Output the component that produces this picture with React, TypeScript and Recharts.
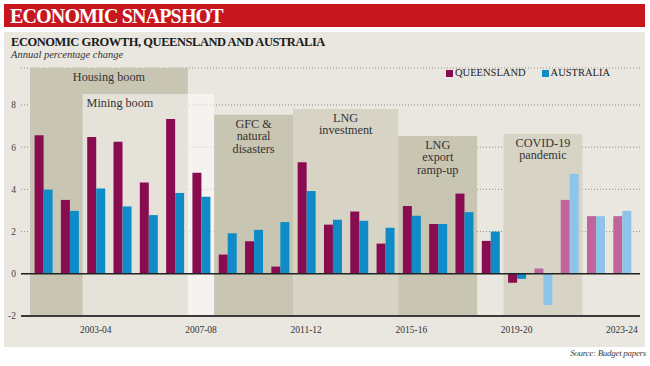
import { Bar, BarChart, CartesianGrid, Cell, ReferenceArea, ReferenceLine, XAxis, YAxis } from 'recharts';

const YEARS = [
  '2001-02', '2002-03', '2003-04', '2004-05', '2005-06', '2006-07', '2007-08', '2008-09',
  '2009-10', '2010-11', '2011-12', '2012-13', '2013-14', '2014-15', '2015-16', '2016-17',
  '2017-18', '2018-19', '2019-20', '2020-21', '2021-22', '2022-23', '2023-24',
];
const QLD = [6.56, 3.5, 6.48, 6.26, 4.32, 7.33, 4.79, 0.91, 1.54, 0.34, 5.28, 2.33, 2.95, 1.43, 3.21, 2.36, 3.8, 1.56, -0.43, 0.25, 3.5, 2.73, 2.73];
const AUS = [3.99, 2.98, 4.04, 3.19, 2.78, 3.83, 3.65, 1.92, 2.08, 2.45, 3.92, 2.56, 2.51, 2.18, 2.75, 2.36, 2.92, 2.0, -0.24, -1.48, 4.73, 2.73, 2.98];
// estimates / forecasts drawn in lighter shades from this year on
const FIRST_ESTIMATE = '2020-21';

const X_TICKS = ['2003-04', '2007-08', '2011-12', '2015-16', '2019-20', '2023-24'];
const Y_TICKS = [-2, 0, 2, 4, 6, 8];

const PERIOD_NAMES = ['Housing boom', 'Mining boom', 'GFC &\nnatural\ndisasters', 'LNG\ninvestment', 'LNG\nexport\nramp-up', 'COVID-19\npandemic'];
const PERIOD_FROM = ['2001-02', '2003-04', '2008-09', '2011-12', '2015-16', '2019-20'];
const PERIOD_TO = ['2006-07', '2007-08', '2010-11', '2014-15', '2017-18', '2021-22'];
const PERIOD_TOP = [9.75, 8.52, 7.53, 7.81, 6.53, 6.62];

const SERIF = '"Liberation Serif", "DejaVu Serif", serif';
const Q_DARK = '#8a0c50';
const Q_LIGHT = '#c0649c';
const A_DARK = '#0f8bc7';
const A_LIGHT = '#8ec4e8';

const PERIOD_FILL = ['#c9c5b3', '#ffffff', '#c9c5b3', '#d7d4c6', '#c9c5b3', '#d7d4c6'];
const PERIOD_OPACITY = [1, 0.5, 1, 1, 1, 1];

const data = YEARS.map((year, i) => ({ year, qld: QLD[i], aus: AUS[i] }));
const estimateStart = YEARS.indexOf(FIRST_ESTIMATE);

function periodLabel(text: string, align: 'middle' | 'start') {
  return (props: any) => {
    const { x, y, width } = props.viewBox;
    const tx = align === 'middle' ? x + width / 2 : x + 4;
    return (
      <text x={tx} y={y + 13} textAnchor={align} fontFamily={SERIF} fontSize={12.2} fill="#333">
        {text.split('\n').map((line, i) => (
          <tspan key={i} x={tx} dy={i === 0 ? 0 : 12.4}>{line}</tspan>
        ))}
      </text>
    );
  };
}

export default function App() {
  return (
    <div style={{ position: 'absolute', left: 0, top: 0, width: 650, height: 366, background: '#fff', fontFamily: SERIF }}>
      <div style={{ position: 'absolute', left: 4, top: 4, width: 641, height: 23, background: '#c8161e' }} />
      <div style={{ position: 'absolute', left: 10, top: 4, height: 23, lineHeight: '24px', color: '#fff', fontWeight: 700, fontSize: 20, letterSpacing: -0.85 }}>
        ECONOMIC SNAPSHOT
      </div>
      <div style={{ position: 'absolute', left: 4, top: 32, width: 641, height: 315, background: '#e9e7e0' }} />
      <div style={{ position: 'absolute', left: 11, top: 35, lineHeight: '14px', fontWeight: 700, fontSize: 12.5, letterSpacing: -0.45, color: '#1a1a1a', whiteSpace: 'nowrap' }}>
        ECONOMIC GROWTH, QUEENSLAND AND AUSTRALIA
      </div>
      <div style={{ position: 'absolute', left: 11, top: 49, lineHeight: '12px', fontStyle: 'italic', fontSize: 10.5, color: '#333', whiteSpace: 'nowrap' }}>
        Annual percentage change
      </div>
      <div style={{ position: 'absolute', left: 446, top: 67, lineHeight: '12px', fontSize: 10.5, color: '#222', display: 'flex', alignItems: 'center', whiteSpace: 'nowrap' }}>
        <span style={{ width: 7, height: 7, background: Q_DARK, marginRight: 2 }} />
        <span>QUEENSLAND</span>
        <span style={{ width: 7, height: 7, background: A_DARK, marginLeft: 16, marginRight: 2 }} />
        <span>AUSTRALIA</span>
      </div>
      <div style={{ position: 'absolute', right: 4, top: 348, lineHeight: '11px', fontStyle: 'italic', fontSize: 9, letterSpacing: -0.3, color: '#444', whiteSpace: 'nowrap' }}>
        Source: Budget papers
      </div>
      <div style={{ position: 'absolute', left: 0, top: 0 }}>
        <BarChart width={650} height={366} data={data} margin={{ top: 68, right: 10, bottom: 20, left: 0 }} barCategoryGap="17.5%" barGap={0}>
          {PERIOD_NAMES.map((name, i) => (
            <ReferenceArea
              key={name}
              x1={PERIOD_FROM[i]}
              x2={PERIOD_TO[i]}
              y1={-2}
              y2={PERIOD_TOP[i]}
              fill={PERIOD_FILL[i]}
              fillOpacity={PERIOD_OPACITY[i]}
              stroke="none"
              ifOverflow="visible"
              label={periodLabel(name, i === 1 ? 'start' : 'middle')}
            />
          ))}
          <CartesianGrid vertical={false} stroke="#8f8d86" strokeDasharray="1 2" />
          <XAxis
            dataKey="year"
            ticks={X_TICKS}
            interval={0}
            height={30}
            padding={{ left: 9, right: 5 }}
            tickLine={false}
            tickSize={4}
            tickMargin={6}
            axisLine={{ stroke: '#3a3a3a', strokeWidth: 2 }}
            tick={{ fontFamily: SERIF, fontSize: 9.5, fill: '#333' }}
          />
          <YAxis
            width={21}
            domain={[-2, 9.75]}
            ticks={Y_TICKS}
            interval={0}
            axisLine={false}
            tickLine={false}
            tickSize={3}
            tickMargin={2}
            tick={{ fontFamily: SERIF, fontSize: 9.5, fill: '#444' }}
          />
          <Bar dataKey="qld" isAnimationActive={false}>
            {data.map((d, i) => (
              <Cell key={d.year} fill={i >= estimateStart ? Q_LIGHT : Q_DARK} />
            ))}
          </Bar>
          <Bar dataKey="aus" isAnimationActive={false}>
            {data.map((d, i) => (
              <Cell key={d.year} fill={i >= estimateStart ? A_LIGHT : A_DARK} />
            ))}
          </Bar>
          <ReferenceLine y={0} stroke="#222" strokeWidth={1.5} />
        </BarChart>
      </div>
    </div>
  );
}
